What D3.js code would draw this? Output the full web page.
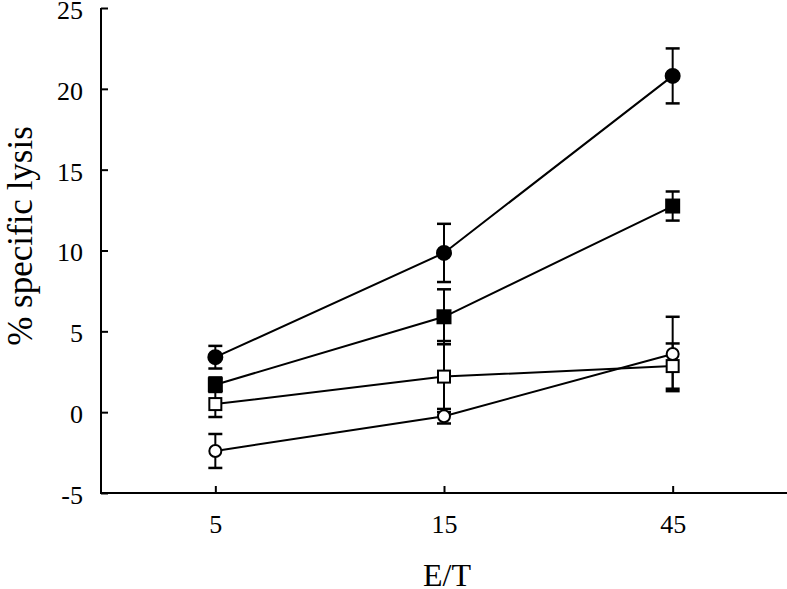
<!DOCTYPE html>
<html><head><meta charset="utf-8">
<script src="https://d3js.org/d3.v7.min.js"></script>
<style>body{margin:0;background:#fff}svg{display:block}text{font-family:"Liberation Serif",serif}</style>
</head><body>
<script>
const categories = ["5", "15", "45"];
const yTicks = [-5, 0, 5, 10, 15, 20, 25];
const filledCircle = [3.4, 9.85, 20.8];
const filledCircleErr = [0.7, 1.8, 1.7];
const filledSquare = [1.7, 5.9, 12.75];
const filledSquareErr = [0.45, 1.7, 0.9];
const openSquare = [0.5, 2.2, 2.85];
const openSquareErr = [0.8, 2.2, 1.4];
const openCircle = [-2.4, -0.25, 3.6];
const openCircleErr = [1.05, 0.45, 2.3];

const series = [
  {name:"openCircle", values: openCircle, err: openCircleErr, shape:"circle", fill:"#fff"},
  {name:"openSquare", values: openSquare, err: openSquareErr, shape:"square", fill:"#fff"},
  {name:"filledSquare", values: filledSquare, err: filledSquareErr, shape:"square", fill:"#000"},
  {name:"filledCircle", values: filledCircle, err: filledCircleErr, shape:"circle", fill:"#000"}
];

const W = 787, H = 589;
const svg = d3.select("body").append("svg").attr("width", W).attr("height", H);
const x = d3.scalePoint().domain(categories).range([101, 787]).padding(0.5);
const y = d3.scaleLinear().domain([-5, 25]).range([493, 8]);

// axes
const yAxis = d3.axisRight(y).tickValues(yTicks).tickSize(7).tickFormat(d => String(d));
const gy = svg.append("g").attr("transform", "translate(101,0)").call(yAxis);
gy.attr("font-family", null);
gy.select(".domain").attr("stroke-width", 2).attr("d", `M0,${y(25)}V${y(-5)}`);
gy.selectAll(".tick line").attr("stroke-width", 2);
gy.selectAll(".tick text").attr("x", -18).attr("text-anchor", "end")
  .attr("font-size", 26).attr("fill", "#000").attr("dy", "0.4em");

const xAxis = d3.axisTop(x).tickSize(7);
const gx = svg.append("g").attr("transform", "translate(0,493)").call(xAxis);
gx.attr("font-family", null);
gx.select(".domain").attr("stroke-width", 2).attr("d", `M100,0H787`);
gx.selectAll(".tick line").attr("stroke-width", 2);
gx.selectAll(".tick text").attr("y", 40).attr("dy", 0)
  .attr("font-size", 26).attr("fill", "#000");

svg.append("text").attr("x", 447).attr("y", 586).attr("text-anchor", "middle")
  .attr("font-size", 32).text("E/T");
svg.append("text").attr("transform", "translate(32,236) rotate(-90)").attr("text-anchor", "middle")
  .attr("font-size", 35).text("% specific lysis");

const line = d3.line().x((d,i) => x(categories[i])).y(d => y(d));
const g = svg.append("g");
series.forEach(s => {
  g.append("path").attr("d", line(s.values)).attr("fill", "none").attr("stroke", "#000").attr("stroke-width", 2);
});
series.forEach(s => {
  s.values.forEach((v, i) => {
    const cx = x(categories[i]);
    const y1 = y(v + s.err[i]), y0 = y(v - s.err[i]);
    g.append("line").attr("x1", cx).attr("x2", cx).attr("y1", y1).attr("y2", y0).attr("stroke", "#000").attr("stroke-width", 2);
    [y1, y0].forEach(yy => g.append("line").attr("x1", cx - 7).attr("x2", cx + 7).attr("y1", yy).attr("y2", yy).attr("stroke", "#000").attr("stroke-width", 2.5));
  });
});
series.forEach(s => {
  s.values.forEach((v, i) => {
    const cx = x(categories[i]), cy = y(v);
    if (s.shape === "circle") {
      g.append("circle").attr("cx", cx).attr("cy", cy).attr("r", s.fill === "#000" ? 7 : 6)
        .attr("fill", s.fill).attr("stroke", "#000").attr("stroke-width", 2);
    } else {
      const h = s.fill === "#000" ? 6.5 : 6;
      g.append("rect").attr("x", cx - h).attr("y", cy - h).attr("width", 2*h).attr("height", 2*h)
        .attr("fill", s.fill).attr("stroke", "#000").attr("stroke-width", 2);
    }
  });
});
</script>
</body></html>
